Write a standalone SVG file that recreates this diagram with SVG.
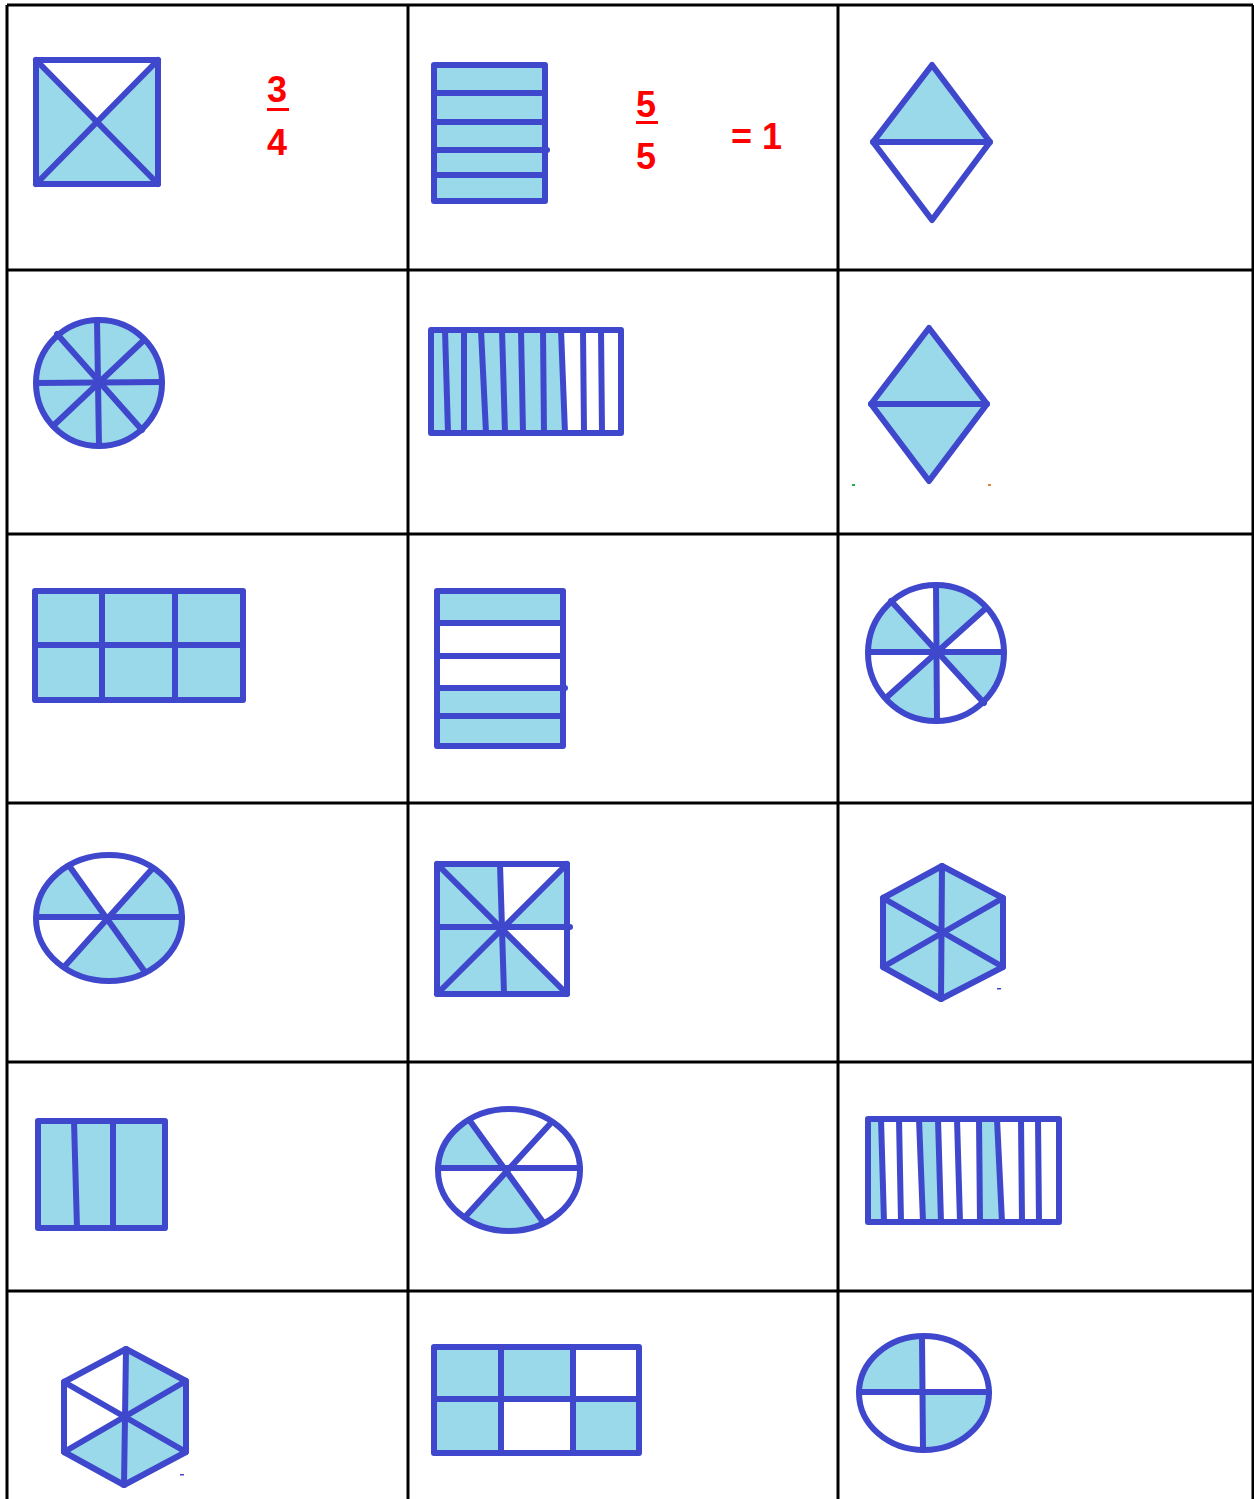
<svg xmlns="http://www.w3.org/2000/svg" width="1254" height="1499" viewBox="0 0 1254 1499">
<style>
.grid{stroke:#000;stroke-width:3;fill:none}
.s{stroke:#3F48CC;stroke-width:6;fill:none;stroke-linecap:round;stroke-linejoin:round}
.b{fill:#99D9EA;stroke:none}
.w{fill:#FFFFFF;stroke:none}
.t{font-family:"Liberation Sans",Arial,sans-serif;font-weight:bold;font-size:36px;fill:#FF0000}
</style>
<defs>
<clipPath id="c43"><ellipse cx="109" cy="918" rx="73" ry="63"/></clipPath>
<clipPath id="c33"><circle cx="936" cy="653" r="68"/></clipPath>
<clipPath id="c52"><ellipse cx="509" cy="1170" rx="71" ry="61"/></clipPath>
<clipPath id="c63"><ellipse cx="924" cy="1393" rx="65" ry="57"/></clipPath>
</defs>
<rect width="1254" height="1499" fill="#fff"/>

<g id="connectors" class="grid">
<line x1="7" y1="5" x2="1253" y2="5"/>
<line x1="7" y1="5" x2="7" y2="1499"/>
<line x1="408" y1="5" x2="408" y2="1499"/>
<line x1="838" y1="5" x2="838" y2="1499"/>
<line x1="1253" y1="5" x2="1253" y2="1499"/>
<line x1="7" y1="270" x2="1253" y2="270"/>
<line x1="7" y1="534" x2="1253" y2="534"/>
<line x1="7" y1="803" x2="1253" y2="803"/>
<line x1="7" y1="1062" x2="1253" y2="1062"/>
<line x1="7" y1="1291" x2="1253" y2="1291"/>
</g>

<g id="cell-1-1">
<polygon points="36,60 97,122 36,184" class="b"/>
<polygon points="158,60 97,122 158,184" class="b"/>
<polygon points="36,184 97,122 158,184" class="b"/>
<rect x="36" y="60" width="122" height="124" class="s"/>
<line x1="36" y1="60" x2="158" y2="184" class="s"/>
<line x1="158" y1="60" x2="36" y2="184" class="s"/>
<text x="267" y="102" class="t">3</text>
<rect x="267" y="108" width="22" height="3" fill="#FF0000"/>
<text x="267" y="155" class="t">4</text>
</g>

<g id="cell-1-2">
<rect x="434" y="65" width="111" height="136" class="b"/>
<rect x="434" y="65" width="111" height="136" class="s"/>
<line x1="434" y1="93" x2="545" y2="93" class="s"/>
<line x1="434" y1="122" x2="545" y2="122" class="s"/>
<line x1="434" y1="150" x2="547" y2="150" class="s"/>
<line x1="434" y1="175" x2="545" y2="175" class="s"/>
<text x="636" y="117" class="t">5</text>
<rect x="636" y="121" width="22" height="3" fill="#FF0000"/>
<text x="636" y="169" class="t">5</text>
<text x="731" y="149" class="t">= 1</text>
</g>

<g id="cell-1-3">
<polygon points="932,65 990,142 873,142" class="b"/>
<polygon points="932,65 990,142 932,220 873,142" class="s"/>
<line x1="873" y1="142" x2="990" y2="142" class="s"/>
</g>

<g id="cell-2-1">
<circle cx="99" cy="383" r="63" class="b"/>
<circle cx="99" cy="383" r="63" class="s"/>
<line x1="97" y1="320" x2="99" y2="446" class="s"/>
<line x1="36" y1="383" x2="162" y2="382" class="s"/>
<line x1="57" y1="334" x2="142" y2="430" class="s"/>
<line x1="143" y1="341" x2="53" y2="426" class="s"/>
</g>

<g id="cell-2-2">
<polygon points="431,330 561,330 565,433 431,433" class="b"/>
<rect x="431" y="330" width="190" height="103" class="s"/>
<line x1="445" y1="330" x2="448" y2="433" class="s"/>
<line x1="464" y1="330" x2="464" y2="433" class="s"/>
<line x1="481" y1="330" x2="486" y2="433" class="s"/>
<line x1="502" y1="330" x2="505" y2="433" class="s"/>
<line x1="521" y1="330" x2="523" y2="433" class="s"/>
<line x1="543" y1="330" x2="544" y2="433" class="s"/>
<line x1="561" y1="330" x2="565" y2="433" class="s"/>
<line x1="583" y1="330" x2="584" y2="433" class="s"/>
<line x1="601" y1="330" x2="602" y2="433" class="s"/>
</g>

<g id="cell-2-3">
<polygon points="929,328 987,404 929,481 871,404" class="b"/>
<polygon points="929,328 987,404 929,481 871,404" class="s"/>
<line x1="871" y1="404" x2="987" y2="404" class="s"/>
<rect x="852" y="484" width="3" height="2" fill="#22B14C"/>
<rect x="988" y="484" width="3" height="2" fill="#E08040"/>
</g>

<g id="cell-3-1">
<rect x="35" y="591" width="208" height="109" class="b"/>
<rect x="35" y="591" width="208" height="109" class="s"/>
<line x1="102" y1="591" x2="102" y2="700" class="s"/>
<line x1="175" y1="591" x2="175" y2="700" class="s"/>
<line x1="35" y1="645" x2="243" y2="645" class="s"/>
</g>

<g id="cell-3-2">
<rect x="437" y="591" width="126" height="32" class="b"/>
<rect x="437" y="688" width="126" height="58" class="b"/>
<rect x="437" y="591" width="126" height="155" class="s"/>
<line x1="437" y1="623" x2="563" y2="623" class="s"/>
<line x1="437" y1="656" x2="563" y2="656" class="s"/>
<line x1="437" y1="688" x2="565" y2="688" class="s"/>
<line x1="437" y1="716" x2="563" y2="716" class="s"/>
</g>

<g id="cell-3-3">
<g clip-path="url(#c33)">
<polygon points="936,652 936,540 1083,523" class="b"/>
<polygon points="936,652 1050,652 1080,805" class="b"/>
<polygon points="936,652 937,760 789,787" class="b"/>
<polygon points="936,652 820,652 801,499" class="b"/>
</g>
<circle cx="936" cy="653" r="68" class="s"/>
<line x1="936" y1="585" x2="937" y2="721" class="s"/>
<line x1="868" y1="652" x2="1004" y2="652" class="s"/>
<line x1="891" y1="601" x2="984" y2="703" class="s"/>
<line x1="985" y1="609" x2="887" y2="697" class="s"/>
</g>

<g id="cell-4-1">
<ellipse cx="109" cy="918" rx="73" ry="63" class="b"/>
<g clip-path="url(#c43)">
<polygon points="107,917 -4,767 242,773" class="w"/>
<polygon points="107,917 0,917 -22,1067" class="w"/>
</g>
<ellipse cx="109" cy="918" rx="73" ry="63" class="s"/>
<line x1="37" y1="917" x2="182" y2="917" class="s"/>
<line x1="70" y1="867" x2="145" y2="972" class="s"/>
<line x1="152" y1="869" x2="64" y2="967" class="s"/>
</g>

<g id="cell-4-2">
<polygon points="501,929 437,929 437,864 501,864" class="b"/>
<polygon points="501,929 567,864 567,929" class="b"/>
<polygon points="501,929 567,994 501,994 437,994 437,929" class="b"/>
<rect x="437" y="864" width="130" height="130" class="s"/>
<line x1="500" y1="864" x2="504" y2="994" class="s"/>
<line x1="437" y1="927" x2="570" y2="927" class="s"/>
<line x1="437" y1="864" x2="567" y2="994" class="s"/>
<line x1="567" y1="864" x2="437" y2="994" class="s"/>
</g>

<g id="cell-4-3">
<polygon points="942,866 1003,898 1003,967 941,999 883,967 883,898" class="b"/>
<polygon points="942,866 1003,898 1003,967 941,999 883,967 883,898" class="s"/>
<line x1="942" y1="866" x2="941" y2="999" class="s"/>
<line x1="1003" y1="898" x2="883" y2="967" class="s"/>
<line x1="883" y1="898" x2="1003" y2="967" class="s"/>
<rect x="997" y="988" width="4" height="1.5" fill="#3F48CC"/>
</g>

<g id="cell-5-1">
<rect x="38" y="1121" width="127" height="107" class="b"/>
<rect x="38" y="1121" width="127" height="107" class="s"/>
<line x1="74" y1="1121" x2="77" y2="1228" class="s"/>
<line x1="113" y1="1121" x2="113" y2="1228" class="s"/>
</g>

<g id="cell-5-2">
<g clip-path="url(#c52)">
<polygon points="506,1168 400,1168 398,1027" class="b"/>
<polygon points="506,1168 383,1315 617,1330" class="b"/>
</g>
<ellipse cx="509" cy="1170" rx="71" ry="61" class="s"/>
<line x1="438" y1="1168" x2="580" y2="1168" class="s"/>
<line x1="470" y1="1121" x2="543" y2="1222" class="s"/>
<line x1="550" y1="1124" x2="465" y2="1217" class="s"/>
</g>

<g id="cell-5-3">
<polygon points="868,1119 881,1119 884,1222 868,1222" class="b"/>
<polygon points="919,1119 938,1119 941,1222 923,1222" class="b"/>
<polygon points="979,1119 997,1119 1002,1222 980,1222" class="b"/>
<rect x="868" y="1119" width="191" height="103" class="s"/>
<line x1="881" y1="1119" x2="884" y2="1222" class="s"/>
<line x1="899" y1="1119" x2="901" y2="1222" class="s"/>
<line x1="919" y1="1119" x2="923" y2="1222" class="s"/>
<line x1="938" y1="1119" x2="941" y2="1222" class="s"/>
<line x1="957" y1="1119" x2="960" y2="1222" class="s"/>
<line x1="979" y1="1119" x2="980" y2="1222" class="s"/>
<line x1="997" y1="1119" x2="1002" y2="1222" class="s"/>
<line x1="1021" y1="1119" x2="1022" y2="1222" class="s"/>
<line x1="1038" y1="1119" x2="1039" y2="1222" class="s"/>
</g>

<g id="cell-6-1">
<polygon points="126,1416 126,1349 186,1381 186,1452 124,1485 64,1452" class="b"/>
<polygon points="126,1349 186,1381 186,1452 124,1485 64,1452 64,1382" class="s"/>
<line x1="126" y1="1349" x2="124" y2="1485" class="s"/>
<line x1="186" y1="1381" x2="64" y2="1452" class="s"/>
<line x1="64" y1="1382" x2="186" y2="1452" class="s"/>
<rect x="180" y="1474" width="4" height="1.5" fill="#3F48CC"/>
</g>

<g id="cell-6-2">
<rect x="434" y="1347" width="139" height="52" class="b"/>
<rect x="434" y="1399" width="67" height="54" class="b"/>
<rect x="573" y="1399" width="66" height="54" class="b"/>
<rect x="434" y="1347" width="205" height="106" class="s"/>
<line x1="501" y1="1347" x2="501" y2="1453" class="s"/>
<line x1="573" y1="1347" x2="573" y2="1453" class="s"/>
<line x1="434" y1="1399" x2="639" y2="1399" class="s"/>
</g>

<g id="cell-6-3">
<g clip-path="url(#c63)">
<rect x="850" y="1320" width="72" height="72" class="b"/>
<rect x="922" y="1392" width="80" height="70" class="b"/>
</g>
<ellipse cx="924" cy="1393" rx="65" ry="57" class="s"/>
<line x1="922" y1="1337" x2="923" y2="1450" class="s"/>
<line x1="859" y1="1392" x2="989" y2="1392" class="s"/>
</g>
</svg>
